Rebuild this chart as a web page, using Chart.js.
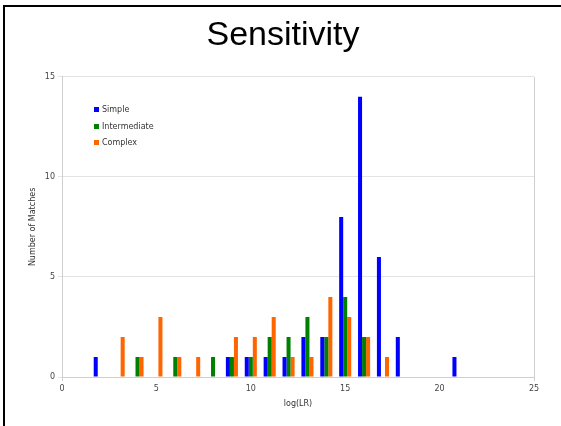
<!DOCTYPE html>
<html>
<head>
<meta charset="utf-8">
<script src="https://cdn.jsdelivr.net/npm/chart.js@4"></script>
<style>
  html, body { margin: 0; padding: 0; background: #fff; }
  #wrap { position: relative; width: 561px; height: 426px; overflow: hidden; background: #fff; }
  #c { position: absolute; left: 0; top: 0; }
  #frame { position: absolute; left: 3px; top: 5px; width: 600px; height: 500px;
           border-top: 2px solid #000; border-left: 2px solid #000; pointer-events: none; }
  #legend { position: absolute; left: 94px; top: 102px; font-family: "DejaVu Sans", Verdana, sans-serif;
            font-size: 8px; color: #333; }
  #legend .row { height: 16.5px; line-height: 16.5px; white-space: nowrap; }
  #legend .sw { display: inline-block; width: 5px; height: 5px; margin-right: 3px; vertical-align: 0px; }
</style>
</head>
<body>
<div id="wrap">
  <canvas id="c" width="561" height="426"></canvas>
  <div id="legend"></div>
  <div id="frame"></div>
</div>
<script>
// Data
const logLR        = [2, 3, 4, 5, 6, 7, 8, 9, 10, 11, 12, 13, 14, 15, 16, 17, 18, 21];
const simple       = [1, 0, 0, 0, 0, 0, 0, 1, 1, 1, 1, 2, 2, 8, 14, 6, 2, 1];
const intermediate = [0, 0, 1, 0, 1, 0, 1, 1, 1, 2, 2, 3, 2, 4, 2, 0, 0, 0];
const complex      = [0, 2, 1, 3, 1, 1, 0, 2, 2, 3, 1, 1, 4, 3, 2, 1, 0, 0];
const seriesNames  = ["Simple", "Intermediate", "Complex"];
const xTicks = [0, 5, 10, 15, 20, 25];
const yTicks = [0, 5, 10, 15];

const colors = ["#0000ff", "#008000", "#ff6600"];
const toPoints = arr => logLR.map((x, i) => ({ x: x, y: arr[i] }));

const tickFont = { family: "'DejaVu Sans', Verdana, sans-serif", size: 8 };

const chart = new Chart(document.getElementById("c"), {
  type: "bar",
  data: {
    datasets: [simple, intermediate, complex].map((arr, i) => ({
      label: seriesNames[i],
      data: toPoints(arr),
      backgroundColor: colors[i],
      borderWidth: 0,
      categoryPercentage: 0.64,
      barPercentage: 1.0
    }))
  },
  options: {
    responsive: false,
    animation: false,
    devicePixelRatio: 1,
    layout: { padding: { left: 32, top: 0, right: 27, bottom: 0 } },
    plugins: {
      legend: { display: false },
      tooltip: { enabled: false },
      title: {
        display: true,
        text: "Sensitivity",
        color: "#000",
        font: { family: "'Liberation Sans', Arial, sans-serif", size: 34, weight: "normal", lineHeight: 1.2 },
        padding: { top: 15, bottom: 21 }
      }
    },
    scales: {
      x: {
        type: "linear",
        offset: false,
        min: xTicks[0],
        max: xTicks[xTicks.length - 1],
        afterBuildTicks: s => { s.ticks = xTicks.map(v => ({ value: v })); },
        ticks: { color: "#444", font: tickFont, padding: 3, maxRotation: 0 },
        grid: {
          offset: false,
          color: c => (c.tick && (c.tick.value === xTicks[0] || c.tick.value === xTicks[xTicks.length - 1])) ? "#cfcfcf" : "rgba(0,0,0,0)",
          tickLength: 4,
          drawTicks: true
        },
        border: { display: true, color: "#cfcfcf" },
        title: {
          display: true, text: "log(LR)", color: "#333", font: tickFont,
          padding: { top: 0, bottom: 17.6 }
        },
        afterFit: s => { s.height = 49; s.paddingLeft = 0; s.paddingRight = 0; }
      },
      y: {
        min: yTicks[0],
        max: yTicks[yTicks.length - 1],
        afterBuildTicks: s => { s.ticks = yTicks.map(v => ({ value: v })); },
        ticks: { color: "#444", font: tickFont, padding: 3 },
        grid: { color: "#e3e3e3", tickLength: 4, drawTicks: true },
        border: { display: true, color: "#cfcfcf" },
        title: {
          display: true, text: "Number of Matches", color: "#333", font: tickFont,
          padding: { top: -3.4, bottom: 0 }
        },
        afterFit: s => { s.width = 30; s.paddingTop = 0; s.paddingBottom = 0; }
      }
    }
  }
});

// HTML legend built from the chart's datasets
const leg = document.getElementById("legend");
chart.data.datasets.forEach(ds => {
  const row = document.createElement("div");
  row.className = "row";
  const sw = document.createElement("span");
  sw.className = "sw";
  sw.style.background = ds.backgroundColor;
  row.appendChild(sw);
  row.appendChild(document.createTextNode(ds.label));
  leg.appendChild(row);
});
</script>
</body>
</html>
